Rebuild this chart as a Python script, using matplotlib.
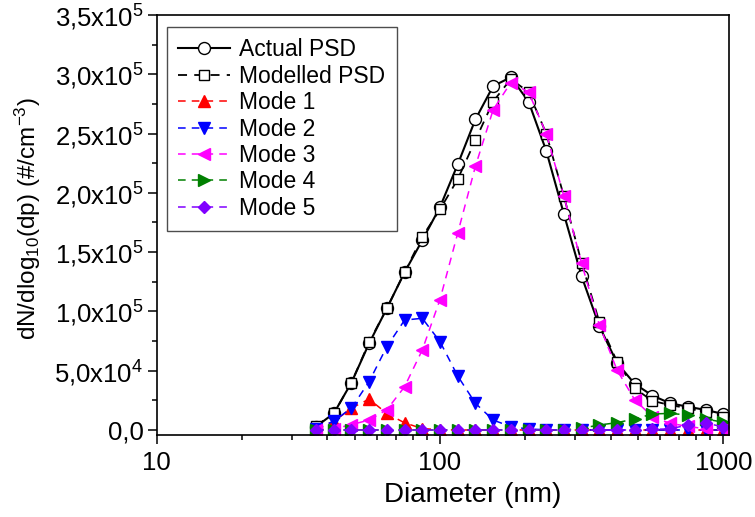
import matplotlib
matplotlib.use("Agg")
import matplotlib.pyplot as plt
from matplotlib.ticker import FixedLocator, MultipleLocator, NullFormatter

plt.rcParams['font.family'] = ['Liberation Sans', 'DejaVu Sans']
plt.rcParams['mathtext.default'] = 'regular'

# particle diameter (nm)
diameter = [36.5, 42.2, 48.7, 56.2, 64.9, 75.0, 86.6, 100.0, 115.5, 133.4, 154.0, 177.8,
            205.4, 237.1, 273.8, 316.2, 365.2, 421.7, 487.0, 562.3, 649.4, 749.9, 866.0, 1000.0]

actual_psd = [2800, 14000, 40000, 73000, 102500, 133000, 160000, 188000, 224000, 262000, 290000, 297500,
              277000, 235500, 182000, 129500, 87500, 56500, 38800, 29000, 22500, 19600, 16900, 13500]
modelled_psd = [3500, 14000, 40000, 74000, 102500, 133000, 163000, 186000, 211500, 244500, 277000, 296000,
                285000, 250000, 197000, 141000, 91000, 57500, 35000, 24500, 21000, 18300, 15000, 11200]
mode1 = [1200, 7000, 18500, 26000, 14000, 6000, 1200, 200, 0, 0, 0, 0,
         0, 0, 0, 0, 0, 0, 0, 0, 0, 0, 0, 0]
mode2 = [1000, 7500, 18500, 40700, 70200, 92700, 94200, 74500, 45500, 22500, 8400, 2800,
         800, 200, 0, 0, 0, 0, 0, 0, 0, 0, 0, 0]
mode3 = [300, 1000, 4500, 8400, 17000, 36500, 67500, 110000, 166000, 222500, 270000, 293000,
         285000, 250000, 197000, 140500, 88500, 50500, 25300, 11200, 5600, 3000, 1000, 500]
mode4 = [0, 0, 0, 0, 0, 0, 0, 0, 0, 0, 0, 0,
         0, 0, 0, 1500, 4200, 6200, 9300, 13500, 14000, 12600, 9300, 6500]
mode5 = [0, 0, 0, 0, 0, 0, 0, 0, 0, 0, 0, 0,
         0, 0, 0, 0, 0, 0, 0, 500, 1000, 4200, 6000, 2500]

yticks = [0, 50000, 100000, 150000, 200000, 250000, 300000, 350000]
ytick_labels = ["0,0", "5,0x10$^4$", "1,0x10$^5$", "1,5x10$^5$", "2,0x10$^5$",
                "2,5x10$^5$", "3,0x10$^5$", "3,5x10$^5$"]
xticks = [10, 100, 1000]
xtick_labels = ["10", "100", "1000"]

fig = plt.figure(figsize=(7.55, 5.17), dpi=100)
ax = fig.add_axes([0.2075, 0.158, 0.7585, 0.813])

ax.plot(diameter, actual_psd, '-', color='black', lw=1.5, marker='o', ms=8.6,
        mfc='white', mec='black', mew=1.0, label='Actual PSD')
ax.plot(diameter, modelled_psd, '--', color='black', lw=1.3, dashes=(5, 4), marker='s', ms=7.2,
        mfc='white', mec='black', mew=1.0, label='Modelled PSD')

modes = [mode1, mode2, mode3, mode4, mode5]
mode_colors = ['#ff0000', '#0000ff', '#ff00ff', '#008000', '#8000ff']
mode_markers = ['^', 'v', '<', '>', 'D']
mode_sizes = [8, 8, 8, 8, 6.5]
for i, m in enumerate(modes):
    ax.plot(diameter, m, '--', color=mode_colors[i], lw=1.1, dashes=(5, 4),
            marker=mode_markers[i], ms=mode_sizes[i], mfc=mode_colors[i], mec=mode_colors[i],
            label='Mode %d' % (i + 1))

ax.set_xscale('log')
ax.set_xlim(10, 1050)
ax.set_ylim(-4500, 350000)

ax.xaxis.set_major_locator(FixedLocator(xticks))
ax.set_xticklabels(xtick_labels)
ax.xaxis.set_minor_formatter(NullFormatter())
ax.set_yticks(yticks)
ax.set_yticklabels(ytick_labels)
ax.yaxis.set_minor_locator(MultipleLocator(25000))

ax.tick_params(which='both', direction='out', top=False, right=False, labelsize=18.5, width=1.1)
ax.tick_params(which='major', length=6.5, pad=3)
ax.tick_params(which='minor', length=3.6)
ax.tick_params(axis='x', which='major', pad=5)
for s in ax.spines.values():
    s.set_linewidth(1.2)

ax.set_xlabel('Diameter (nm)', fontsize=20)
ax.xaxis.set_label_coords(0.5515, -0.112)
ax.set_ylabel('dN/dlog$_{10}$(dp) (#/cm$^{-3}$)', fontsize=17.5)
ax.yaxis.set_label_coords(-0.198, 0.515)

leg = ax.legend(loc='upper left', bbox_to_anchor=(0.0175, 0.972), borderaxespad=0,
                fontsize=16.5, handlelength=2.26, handletextpad=0.4, labelspacing=0.15,
                borderpad=0.5, fancybox=False, framealpha=1)
leg.get_frame().set_edgecolor('0.3')
leg.get_frame().set_linewidth(1.0)

fig.savefig('out.png', dpi=100)
